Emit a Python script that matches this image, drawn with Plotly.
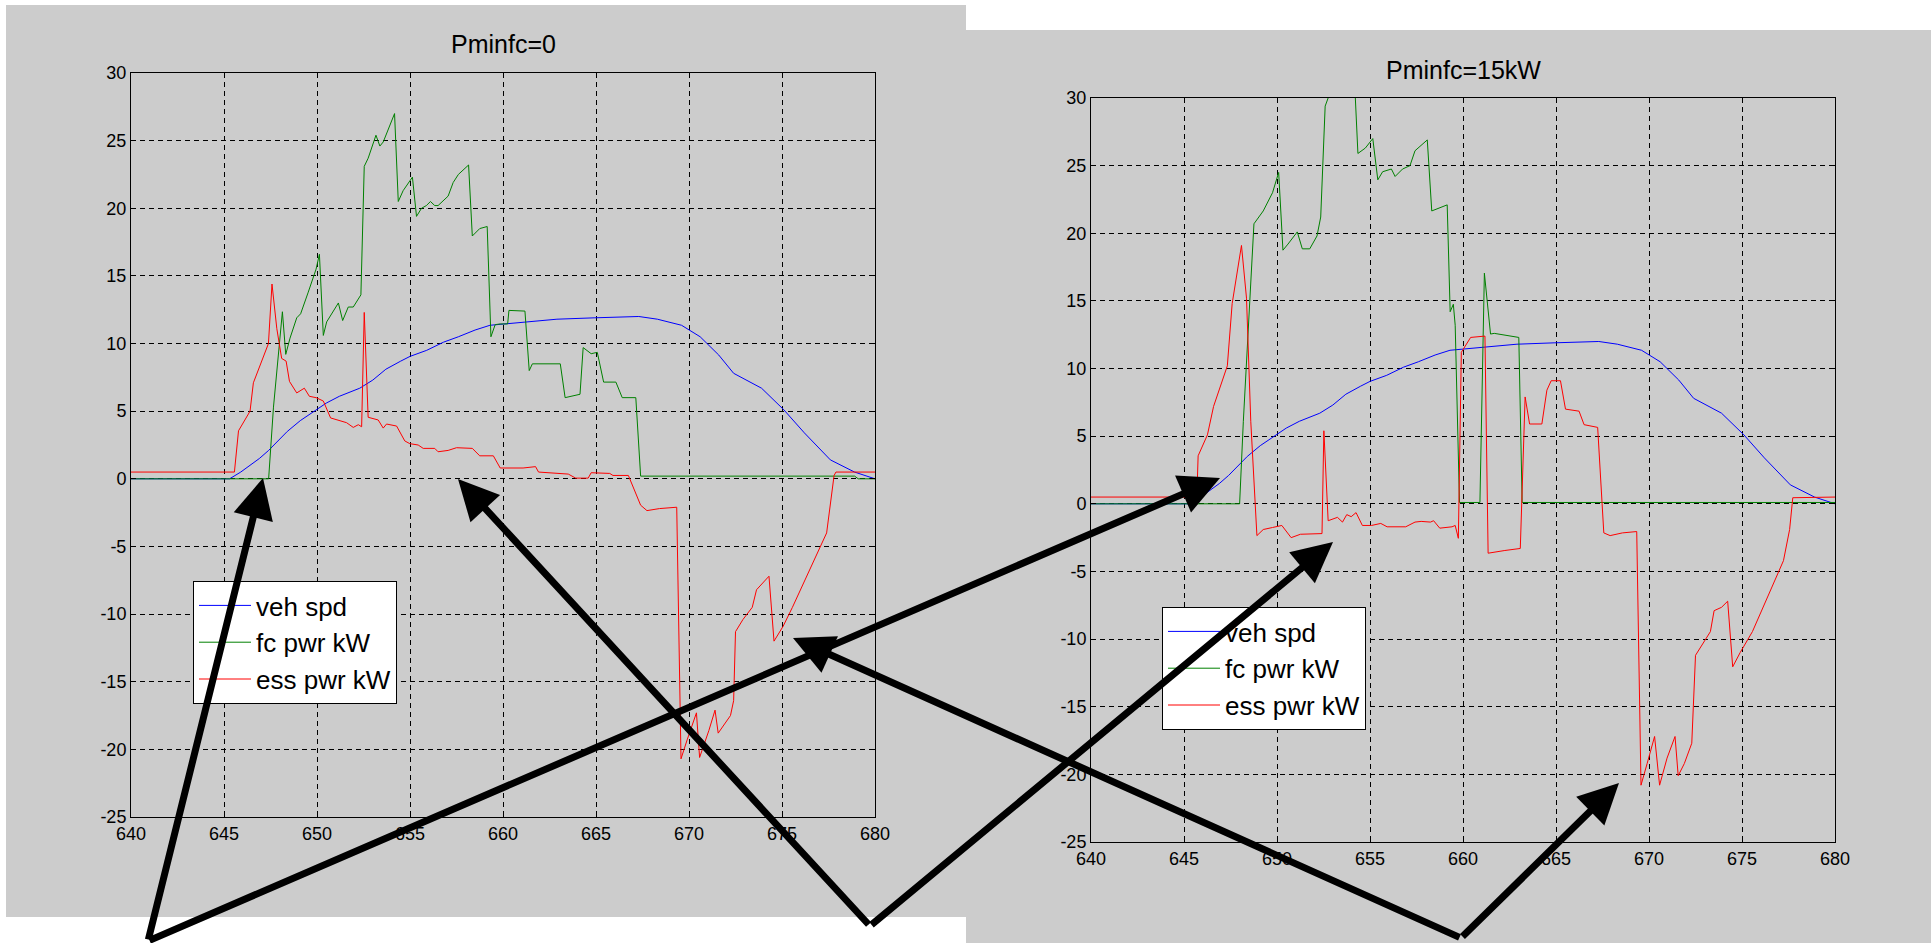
import plotly.graph_objects as go

# ---------------- data ----------------
# vehicle speed (same drive cycle in both panels)
spd_t = [640, 645.3, 645.9, 646.9, 647.4, 648.4, 649.1, 650.0, 650.5, 651.2,
         652.3, 653.0, 653.7, 654.5, 655.0, 655.9, 656.8, 657.6, 658.5, 659.3,
         660.6, 661.9, 662.9, 664.9, 666.5, 667.3, 668.3, 669.6, 670.6, 671.6,
         672.4, 673.9, 675.1, 676.2, 677.6, 678.9, 680]
spd_v = [0, 0, 0.5, 1.5, 2.1, 3.5, 4.3, 5.1, 5.6, 6.1,
         6.7, 7.3, 8.1, 8.7, 9.05, 9.5, 10.1, 10.5, 11.0, 11.35,
         11.5, 11.65, 11.8, 11.9, 12.0, 12.0, 11.8, 11.35, 10.5, 9.15,
         7.8, 6.7, 5.1, 3.4, 1.4, 0.5, 0.0]

# Pminfc = 0 : fuel-cell power
fc0_t = [640, 647.4, 647.66, 647.92, 648.14, 648.32, 648.55, 648.91, 649.12, 649.53,
         649.95, 650.13, 650.34, 650.52, 651.15, 651.38, 651.68, 651.95, 652.36, 652.54,
         652.75, 653.17, 653.38, 653.56, 654.17, 654.37, 654.63, 655.13, 655.35, 655.62,
         655.88, 656.1, 656.33, 656.51, 657.05, 657.32, 657.6, 658.15, 658.35, 658.75,
         659.15, 659.35, 659.58, 659.85, 660.25, 660.32, 661.18, 661.41, 661.58, 663.08,
         663.34, 664.14, 664.31, 664.74, 665.07, 665.41, 666.07, 666.41, 667.14, 667.4,
         678.9, 679.1, 680]
fc0_v = [0, 0, 5.3, 8.9, 12.35, 9.2, 10.4, 11.9, 12.2, 13.8,
         15.5, 16.6, 10.6, 11.6, 13.0, 11.7, 12.7, 12.7, 13.6, 23.1,
         23.7, 25.4, 24.6, 24.9, 27.0, 20.5, 21.3, 22.3, 19.4, 20.0,
         20.2, 20.5, 20.2, 20.2, 20.9, 21.9, 22.5, 23.2, 17.95, 18.5,
         18.65, 10.5, 11.4, 11.45, 11.45, 12.45, 12.4, 8.0, 8.5, 8.5,
         6.0, 6.25, 9.7, 9.25, 9.35, 7.15, 7.15, 6.0, 6.0, 0.2,
         0.2, 0.0, 0.0]

# Pminfc = 0 : energy-storage power
ess0_t = [640, 645.56, 645.78, 646.4, 646.58, 647.39, 647.58, 647.84, 648.1, 648.34,
          648.52, 648.91, 649.32, 649.59, 649.95, 650.34, 650.73, 651.23, 651.59, 651.95,
          652.22, 652.4, 652.54, 652.75, 653.29, 653.56, 653.74, 654.28, 654.72, 654.99,
          655.44, 655.71, 656.33, 656.51, 657.05, 657.5, 658.35, 658.75, 659.48, 659.85,
          661.08, 661.75, 661.91, 663.51, 663.91, 664.58, 664.74, 665.74, 665.91, 666.74,
          667.4, 667.74, 668.41, 669.34, 669.57, 669.9, 670.4, 670.57, 671.07, 671.4,
          671.57, 672.23, 672.4, 672.5, 672.9, 673.4, 673.63, 674.3, 674.57, 675.06,
          675.56, 677.4, 677.56, 677.8, 677.9, 680]
ess0_v = [0.5, 0.5, 3.55, 5.0, 7.1, 10.0, 14.4, 11.1, 8.9, 8.7,
          7.2, 6.35, 6.7, 6.1, 6.0, 5.75, 4.5, 4.3, 4.15, 3.8,
          4.0, 3.85, 12.3, 4.55, 4.35, 3.75, 4.05, 3.9, 2.8, 2.6,
          2.5, 2.25, 2.25, 2.0, 2.1, 2.3, 2.25, 1.7, 1.7, 0.8,
          0.8, 0.9, 0.5, 0.35, 0.05, 0.05, 0.45, 0.4, 0.25, 0.25,
          -1.95, -2.35, -2.2, -2.1, -20.7, -19.3, -17.3, -20.6, -18.6, -17.1,
          -18.8, -17.5, -16.4, -11.3, -10.4, -9.5, -8.2, -7.2, -12.0, -10.9,
          -9.5, -4.0, -2.4, 0.25, 0.5, 0.5]

# Pminfc = 15 kW : fuel-cell power
fc15_t = [640, 647.99, 648.19, 648.42, 648.76, 649.26, 649.76, 650.09, 650.32, 650.59,
          651.09, 651.36, 651.76, 652.15, 652.35, 652.59, 653.2, 653.4, 654.1, 654.35,
          654.75, 655.15, 655.42, 655.68, 656.15, 656.35, 656.75, 657.15, 657.42, 658.08,
          658.32, 659.15, 659.31, 659.48, 659.58, 659.81, 660.91, 661.15, 661.48, 661.68,
          663.0, 663.18, 680]
fc15_v = [0, 0, 6.1, 12.3, 20.7, 21.65, 23.0, 24.5, 18.75, 19.2,
          20.1, 18.85, 18.85, 19.8, 21.2, 29.4, 31.7, 31.0, 33.3, 25.9,
          26.3, 27.0, 23.95, 24.55, 24.75, 24.2, 24.75, 25.0, 26.1, 26.9,
          21.65, 22.1, 14.2, 14.75, 13.2, 0.1, 0.1, 17.05, 12.55, 12.6,
          12.3, 0.1, 0.1]

# Pminfc = 15 kW : energy-storage power
ess15_t = [640, 645.69, 645.76, 646.26, 646.59, 647.33, 647.59, 648.09, 648.36, 648.59,
           648.92, 649.26, 649.76, 650.26, 650.76, 651.26, 652.42, 652.52, 652.75, 653.25,
           653.52, 653.75, 653.99, 654.25, 654.59, 655.08, 655.58, 655.92, 656.92, 657.42,
           657.75, 658.25, 658.42, 658.75, 659.41, 659.58, 659.75, 659.91, 660.41, 661.18,
           661.35, 661.65, 662.25, 663.08, 663.34, 663.58, 664.24, 664.51, 664.74, 665.24,
           665.51, 666.24, 666.51, 667.24, 667.57, 667.91, 668.57, 669.34, 669.57, 669.9,
           670.3, 670.57, 670.97, 671.4, 671.57, 671.9, 672.3, 672.5, 672.9, 673.3,
           673.5, 673.9, 674.23, 674.5, 674.9, 675.56, 677.23, 677.56, 677.73, 680]
ess15_v = [0.5, 0.5, 3.55, 5.1, 7.2, 10.2, 14.8, 19.1, 15.2, 6.1,
           -2.35, -1.9, -1.75, -1.6, -2.5, -2.25, -2.2, 5.4, -1.25, -1.0,
           -1.35, -0.8, -0.95, -0.65, -1.6, -1.6, -1.45, -1.7, -1.7, -1.35,
           -1.3, -1.35, -1.25, -1.8, -1.7, -1.6, -2.55, 11.2, 12.3, 12.4,
           -3.65, -3.6, -3.45, -3.3, 7.9, 5.9, 5.9, 8.4, 9.1, 9.1,
           7.0, 6.85, 5.85, 5.65, -2.15, -2.35, -2.15, -2.05, -20.8, -19.2,
           -17.2, -20.8, -18.8, -17.2, -20.1, -19.2, -17.7, -11.2, -10.35, -9.45,
           -7.9, -7.65, -7.2, -12.05, -11.0, -9.45, -4.2, -1.9, 0.45, 0.5]

series_names = ["veh spd", "fc pwr kW", "ess pwr kW"]
panel_titles = ["Pminfc=0", "Pminfc=15kW"]
x_ticks = [640, 645, 650, 655, 660, 665, 670, 675, 680]
x_ticktext = ["640", "645", "650", "655", "660", "665", "670", "675", "680"]
y_ticks = [30, 25, 20, 15, 10, 5, 0, -5, -10, -15, -20, -25]
y_ticktext = ["30", "25", "20", "15", "10", "5", "0", "-5", "-10", "-15", "-20", "-25"]

# ---------------- layout geometry (pixels) ----------------
W, H = 1931, 943
FONT = "Liberation Sans, Arial, Helvetica, sans-serif"


def px(x):
    return x / W


def py(y):
    return 1 - y / H


colors = ["#0000ff", "#008000", "#ff0000"]

fig = go.Figure()
panels = [
    ("x", "y", "legend", [(spd_t, spd_v), (fc0_t, fc0_v), (ess0_t, ess0_v)]),
    ("x2", "y2", "legend2", [(spd_t, spd_v), (fc15_t, fc15_v), (ess15_t, ess15_v)]),
]
for xa, ya, lg, data in panels:
    for (t, v), name, c in zip(data, series_names, colors):
        fig.add_trace(go.Scatter(x=t, y=v, mode="lines", name=name,
                                 line=dict(color=c, width=1),
                                 xaxis=xa, yaxis=ya, legend=lg,
                                 hoverinfo="skip"))

axis_style = dict(showgrid=True, gridcolor="black", gridwidth=1, griddash="5px,4px",
                  showline=True, linecolor="black", linewidth=1, mirror="allticks",
                  ticks="inside", ticklen=5, tickcolor="black", zeroline=False,
                  tickfont=dict(family=FONT, size=18, color="black"),
                  automargin=False, fixedrange=True)

legend_style = dict(xanchor="left", yanchor="top", bgcolor="white",
                    bordercolor="black", borderwidth=1,
                    font=dict(family=FONT, size=26, color="black"),
                    itemwidth=52, tracegroupgap=0)

fig.update_layout(
    width=W, height=H, autosize=False,
    margin=dict(l=0, r=0, t=0, b=0, pad=0, autoexpand=False),
    paper_bgcolor="white", plot_bgcolor="white",
    font=dict(family=FONT, color="black"),
    xaxis=dict(domain=[px(131), px(875)], range=[640, 680], tickvals=x_ticks,
               ticktext=x_ticktext, anchor="y", **axis_style),
    yaxis=dict(domain=[py(817), py(73)], range=[-25, 30], tickvals=y_ticks,
               ticktext=y_ticktext, anchor="x", **axis_style),
    xaxis2=dict(domain=[px(1091), px(1835)], range=[640, 680], tickvals=x_ticks,
                ticktext=x_ticktext, anchor="y2", **axis_style),
    yaxis2=dict(domain=[py(842), py(98)], range=[-25, 30], tickvals=y_ticks,
                ticktext=y_ticktext, anchor="x2", **axis_style),
    legend=dict(x=px(193), y=py(581), **legend_style),
    legend2=dict(x=px(1162), y=py(607), **legend_style),
    showlegend=True,
)

# gray figure panels
fig.add_shape(type="rect", xref="paper", yref="paper", x0=px(6), x1=px(966),
              y0=py(917), y1=py(5), fillcolor="#cccccc", line=dict(width=0), layer="below")
fig.add_shape(type="rect", xref="paper", yref="paper", x0=px(966), x1=1,
              y0=0, y1=py(30), fillcolor="#cccccc", line=dict(width=0), layer="below")

# panel titles
for title, (cx, cy) in zip(panel_titles, [(503, 44), (1463, 70)]):
    fig.add_annotation(x=px(cx), y=py(cy), xref="paper", yref="paper", text=title,
                       showarrow=False, xanchor="center", yanchor="middle",
                       font=dict(family=FONT, size=25, color="black"))

# black call-out arrows: (tail, head) in pixels
arrows = [
    ((148, 941), (263, 478)),
    ((148, 941), (1220, 478)),
    ((870, 926), (458, 479)),
    ((870, 926), (1333, 542)),
    ((1461, 938), (793, 638)),
    ((1461, 938), (1619, 783)),
]
for (tx, ty), (hx, hy) in arrows:
    fig.add_annotation(x=px(hx), y=py(hy), xref="paper", yref="paper",
                       ax=tx - hx, ay=ty - hy, axref="pixel", ayref="pixel",
                       text="", showarrow=True, arrowhead=2, arrowsize=1.15,
                       arrowwidth=7, arrowcolor="black", standoff=0)

fig.write_html("out.html", config={"displayModeBar": False})
